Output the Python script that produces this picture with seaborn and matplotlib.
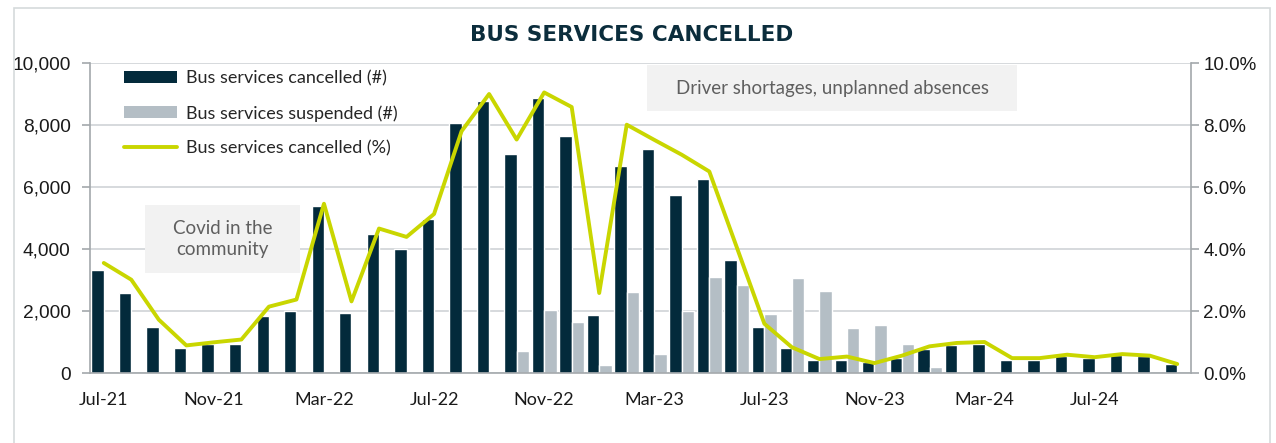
import numpy as np
import pandas as pd
import matplotlib
matplotlib.use("Agg")
import matplotlib.pyplot as plt
import seaborn as sns
from matplotlib.patches import Patch, Rectangle
from matplotlib.lines import Line2D
from matplotlib.ticker import FuncFormatter, FixedLocator, NullFormatter

# DATA

months = ["Jul-21", "Aug-21", "Sep-21", "Oct-21", "Nov-21", "Dec-21",
          "Jan-22", "Feb-22", "Mar-22", "Apr-22", "May-22", "Jun-22",
          "Jul-22", "Aug-22", "Sep-22", "Oct-22", "Nov-22", "Dec-22",
          "Jan-23", "Feb-23", "Mar-23", "Apr-23", "May-23", "Jun-23",
          "Jul-23", "Aug-23", "Sep-23", "Oct-23", "Nov-23", "Dec-23",
          "Jan-24", "Feb-24", "Mar-24", "Apr-24", "May-24", "Jun-24",
          "Jul-24", "Aug-24", "Sep-24", "Oct-24"]

cancelled = [3310, 2570, 1480, 800, 930, 950,
             1830, 2000, 5390, 1950, 4480, 3990,
             4960, 8050, 8760, 7080, 8870, 7650,
             1870, 6680, 7240, 5740, 6250, 3630,
             1490, 810, 410, 430, 340, 490,
             790, 900, 940, 430, 430, 540,
             490, 590, 540, 290]

suspended = [0, 0, 0, 0, 0, 0,
             0, 0, 0, 0, 0, 0,
             0, 0, 0, 720, 2020, 1650,
             260, 2620, 600, 2000, 3110, 2850,
             1890, 3080, 2660, 1440, 1535, 920,
             195, 0, 0, 0, 0, 0,
             0, 0, 0, 0]

cancelled_pct = [3.55, 3.01, 1.72, 0.89, 0.99, 1.08,
                 2.14, 2.37, 5.46, 2.31, 4.66, 4.39,
                 5.13, 7.80, 9.00, 7.53, 9.05, 8.58,
                 2.58, 8.01, 7.52, 7.04, 6.50, 4.05,
                 1.59, 0.83, 0.45, 0.53, 0.32, 0.56,
                 0.86, 0.97, 1.00, 0.48, 0.48, 0.59,
                 0.51, 0.61, 0.56, 0.29]

series_names = ["Bus services cancelled (#)", "Bus services suspended (#)"]
line_name = "Bus services cancelled (%)"

# COLOURS

DARK = "#032a3b"
GREY = "#b4bec5"
LIME = "#c9d600"
AXIS = "#a3a8ab"
GRID = "#d3d7da"

df = pd.DataFrame({
    "Month": months * 2,
    "Services": cancelled + suspended,
    "Series": [series_names[0]] * len(months) + [series_names[1]] * len(months),
})

sns.set_theme(style="white")
plt.rcParams["font.family"] = ["Lato", "DejaVu Sans"]

fig = plt.figure(figsize=(12.76, 4.43), dpi=100)
ax = fig.add_axes([90 / 1276, 70 / 443, 1101 / 1276, 310 / 443])

sns.barplot(data=df, x="Month", y="Services", hue="Series",
            order=months, hue_order=series_names,
            palette=[DARK, GREY], width=0.9, saturation=1,
            ax=ax, legend=False)

ax.set_xlim(-0.5, len(months) - 0.5)
ax.set_ylim(0, 10000)
ax.set_xlabel("")
ax.set_ylabel("")

# category axis: tick marks between categories, labels every 4 months
ax.xaxis.set_major_locator(FixedLocator(np.arange(-0.5, len(months), 4)))
ax.xaxis.set_major_formatter(NullFormatter())
ax.xaxis.set_minor_locator(FixedLocator(np.arange(0, len(months), 4)))
ax.set_xticklabels(months[::4], minor=True)
ax.tick_params(axis="x", which="major", length=6, width=1.2, color=AXIS, direction="out")
ax.tick_params(axis="x", which="minor", length=0, pad=14, labelsize=13, labelcolor="#1a1a1a")

ax.set_yticks(np.arange(0, 10001, 2000))
ax.yaxis.set_major_formatter(FuncFormatter(lambda v, p: f"{v:,.0f}"))
ax.tick_params(axis="y", length=6, width=1.2, color=AXIS, direction="out",
               pad=8, labelsize=13.8, labelcolor="#1a1a1a")
for lab in ax.get_yticklabels():
    lab.set_fontfamily("Liberation Sans")

ax.yaxis.grid(True, color=GRID, lw=1.3)
ax.set_axisbelow(True)
for s in ["top", "right"]:
    ax.spines[s].set_visible(False)
for s in ["left", "bottom"]:
    ax.spines[s].set_color(AXIS)
    ax.spines[s].set_linewidth(1.2)

# percentage line on the right axis
ax2 = ax.twinx()
sns.lineplot(x=np.arange(len(months)), y=cancelled_pct, color=LIME,
             lw=2.8, ax=ax2, legend=False)
ax2.lines[0].set_solid_joinstyle("round")
ax2.set_ylim(0, 10)
ax2.set_yticks(np.arange(0, 10.1, 2))
ax2.yaxis.set_major_formatter(FuncFormatter(lambda v, p: f"{v:.1f}%"))
ax2.tick_params(axis="y", length=6, width=1.2, color=AXIS, direction="out",
                pad=3, labelsize=13.5, labelcolor="#1a1a1a")
for lab in ax2.get_yticklabels():
    lab.set_fontfamily("Liberation Sans")
for s in ["top", "left", "bottom"]:
    ax2.spines[s].set_visible(False)
ax2.spines["right"].set_color(AXIS)
ax2.spines["right"].set_linewidth(1.2)
ax2.set_ylabel("")

# legend
handles = [Patch(facecolor=DARK, edgecolor="none"),
           Patch(facecolor=GREY, edgecolor="none"),
           Line2D([0], [0], color=LIME, lw=2.8)]
ax2.legend(handles, series_names + [line_name], loc="upper left",
           bbox_to_anchor=(0.0245, 1.0), frameon=False, fontsize=13,
           handlelength=2.95, handleheight=0.65, handletextpad=0.45,
           labelspacing=1.03, borderaxespad=0)

# annotation boxes
ax2.add_patch(Rectangle((0.050, 0.3226), 0.1407, 0.2194, transform=ax.transAxes,
                        facecolor="#f2f2f2", edgecolor="none", zorder=1))
ax2.text(0.1205, 0.432, "Covid in the\ncommunity", transform=ax.transAxes,
         ha="center", va="center", fontsize=13.5, color="#5f5f5f",
         linespacing=1.3, zorder=2)
ax2.add_patch(Rectangle((0.506, 0.845), 0.336, 0.1485, transform=ax.transAxes,
                        facecolor="#f2f2f2", edgecolor="none", zorder=1))
ax2.text(0.674, 0.919, "Driver shortages, unplanned absences", transform=ax.transAxes,
         ha="center", va="center", fontsize=13.5, color="#5f5f5f", zorder=2)

# title and chart border
fig.text(632 / 1276, 1 - 35 / 443, "BUS SERVICES CANCELLED", ha="center", va="center",
         fontsize=15.5, fontweight="bold", color="#0b2d3c", family="DejaVu Sans")
fig.add_artist(Rectangle((14 / 1276, -0.05), 1256 / 1276, 1.05 - 8 / 443,
                         transform=fig.transFigure, fill=False,
                         edgecolor="#d5dadc", lw=1.2))

fig.savefig("out.png", dpi=100)
